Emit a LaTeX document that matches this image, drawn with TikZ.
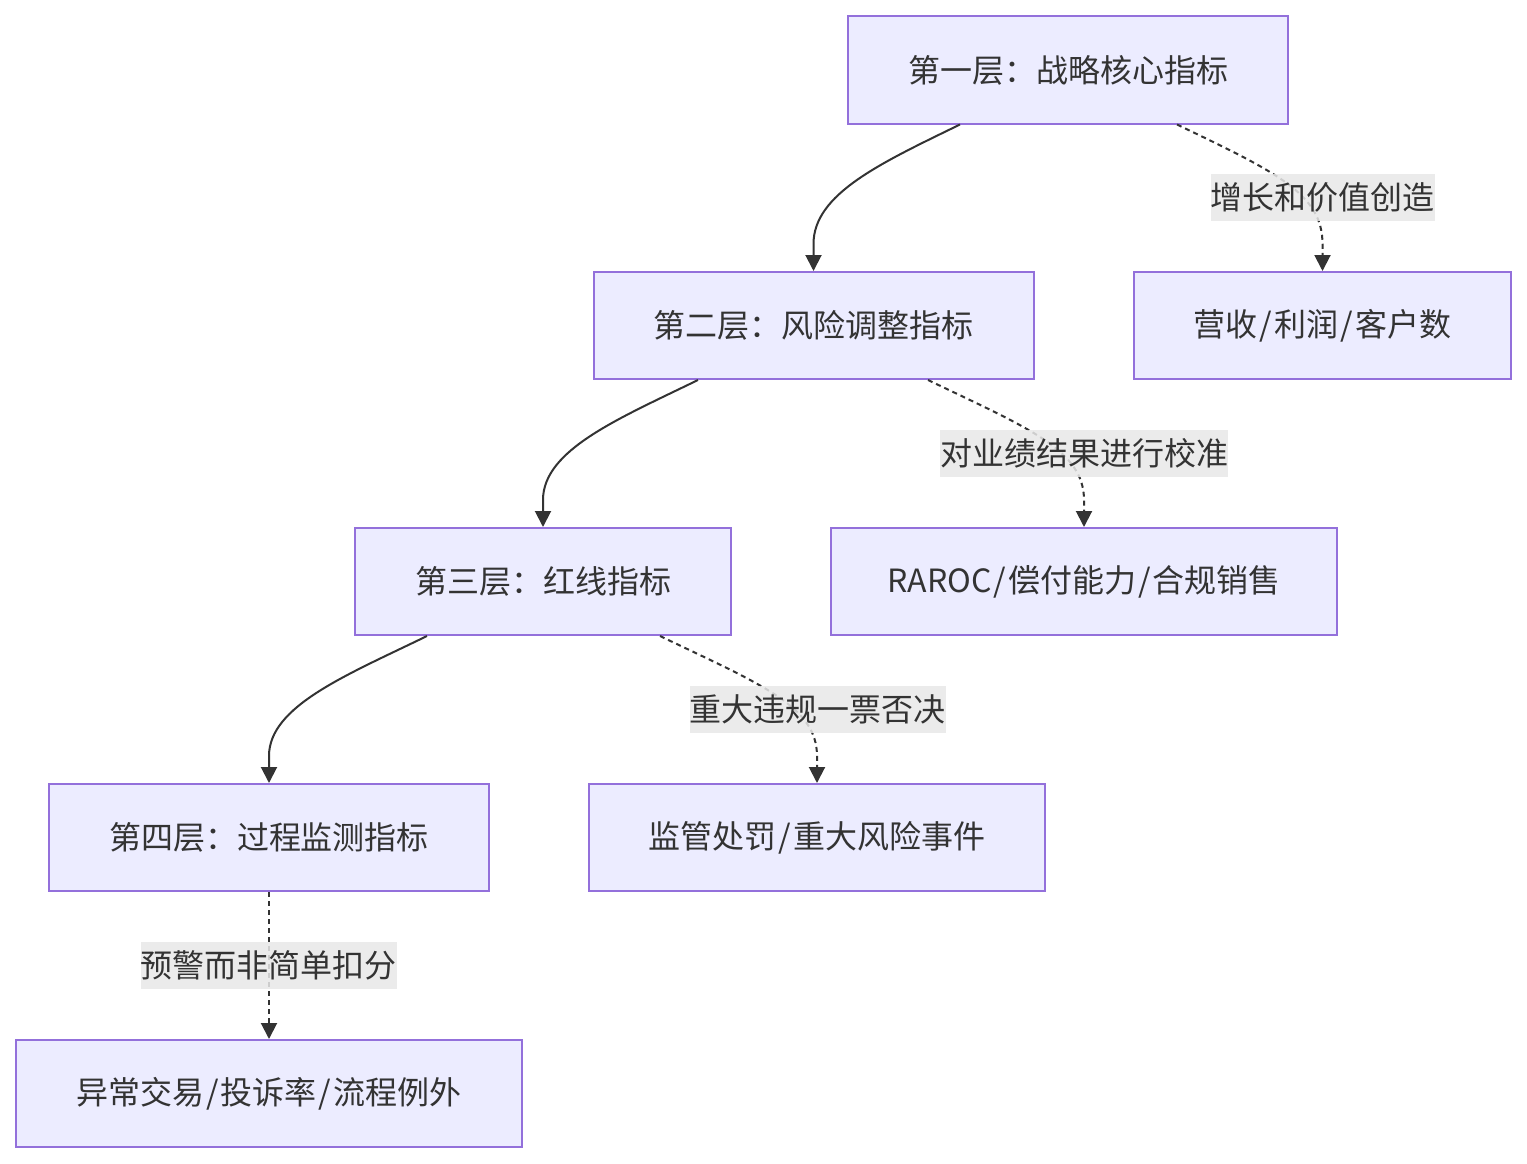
\documentclass[tikz,border=0pt]{standalone}
\usepackage{fontspec}
\setmainfont{Noto Sans CJK SC}
\usetikzlibrary{arrows.meta,calc}
\definecolor{nodefill}{HTML}{ECECFF}
\definecolor{nodeline}{HTML}{9370DB}
\definecolor{edgecol}{HTML}{333333}
\definecolor{lblfill}{HTML}{E8E8E8}
\newcommand{\slh}{\kern2pt/\kern2pt}
\tikzset{
  box/.style={draw=nodeline, fill=nodefill, line width=2pt, inner sep=0pt,
    minimum height=107pt, text=edgecol, font=\fontsize{32}{38}\selectfont},
  lbl/.style={fill=lblfill, fill opacity=0.85, text opacity=1, inner sep=0pt,
    minimum height=47pt, text=edgecol, font=\fontsize{32}{38}\selectfont},
  solidedge/.style={draw=edgecol, line width=2pt, -{Triangle[length=16pt,width=16pt]}},
  dottededge/.style={draw=edgecol, line width=2pt, dash pattern=on 5pt off 4pt,
    -{Triangle[length=16pt,width=16pt]}}
}
\begin{document}
\begin{tikzpicture}[x=1pt,y=-1pt]
\useasboundingbox (0,0) rectangle (1527,1164);
\node[box, minimum width=440pt] (n1) at (1068,70) {第一层：战略核心指标};
\node[box, minimum width=440pt] (n2) at (813.5,325.5) {第二层：风险调整指标};
\node[box, minimum width=377pt] (n2b) at (1322.5,325.5) {营收\slh 利润\slh 客户数};
\node[box, minimum width=376pt] (n3) at (543,581.5) {第三层：红线指标};
\node[box, minimum width=506pt] (n3b) at (1084,581.5) {RAROC\slh 偿付能力\slh 合规销售};
\node[box, minimum width=440pt] (n4) at (269,837.5) {第四层：过程监测指标};
\node[box, minimum width=456pt] (n4b) at (817,837.5) {监管处罚\slh 重大风险事件};
\node[box, minimum width=506pt] (n5) at (269,1093.5) {异常交易\slh 投诉率\slh 流程例外};

% level 1
\coordinate (a1) at ($(n1.south)+(-108,0)$);
\coordinate (b1) at ($(n1.south)+(109,0)$);
\draw[solidedge] (a1) .. controls ($(a1)+(-80,39)$) and ($(n2.north)+(0,-77)$) .. ($(n2.north)+(0,-27)$) -- (n2.north);
\draw[dottededge] (b1) .. controls ($(b1)+(100,48)$) and ($(n2b.north)+(0,-77)$) .. ($(n2b.north)+(0,-27)$) -- (n2b.north);
% level 2
\coordinate (a2) at ($(n2.south)+(-115.5,0)$);
\coordinate (b2) at ($(n2.south)+(114.5,0)$);
\draw[solidedge] (a2) .. controls ($(a2)+(-80,39)$) and ($(n3.north)+(0,-77)$) .. ($(n3.north)+(0,-27)$) -- (n3.north);
\draw[dottededge] (b2) .. controls ($(b2)+(100,48)$) and ($(n3b.north)+(0,-77)$) .. ($(n3b.north)+(0,-27)$) -- (n3b.north);
% level 3
\coordinate (a3) at ($(n3.south)+(-116,0)$);
\coordinate (b3) at ($(n3.south)+(117,0)$);
\draw[solidedge] (a3) .. controls ($(a3)+(-80,39)$) and ($(n4.north)+(0,-77)$) .. ($(n4.north)+(0,-27)$) -- (n4.north);
\draw[dottededge] (b3) .. controls ($(b3)+(100,48)$) and ($(n4b.north)+(0,-77)$) .. ($(n4b.north)+(0,-27)$) -- (n4b.north);
% level 4
\draw[dottededge] (n4.south) -- (n5.north);

\node[lbl, minimum width=223pt] (l1) at (1322.5,197.5) {增长和价值创造};
\node[lbl, minimum width=288pt] (l2) at (1084,453.5) {对业绩结果进行校准};
\node[lbl, minimum width=255pt] (l3) at (817.5,709.5) {重大违规一票否决};
\node[lbl, minimum width=255pt] (l4) at (268.5,965.5) {预警而非简单扣分};
\end{tikzpicture}
\end{document}
